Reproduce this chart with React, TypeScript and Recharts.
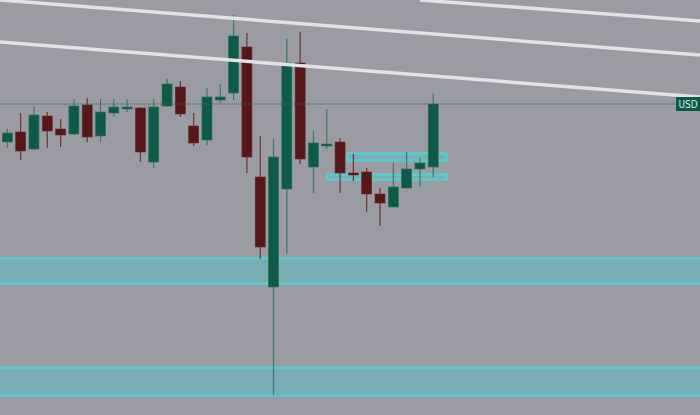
import React from "react";
import {
  ComposedChart,
  Bar,
  XAxis,
  YAxis,
  ReferenceLine,
  ReferenceArea,
} from "recharts";

// ---- data (prices) ----
const opens = [
  1.0758, 1.0768, 1.0751, 1.0784, 1.0771, 1.0766, 1.0795, 1.0764, 1.0787, 1.0791,
  1.0792, 1.0738, 1.0794, 1.0813, 1.0774, 1.076, 1.08, 1.0807, 1.0853, 1.0723,
  1.0613, 1.0711, 1.0837, 1.0733, 1.0755, 1.0758, 1.0727, 1.0728, 1.0706, 1.0693,
  1.0712, 1.0731, 1.0733,
];
const highs = [
  1.0771, 1.0787, 1.0794, 1.0788, 1.0781, 1.0801, 1.0802, 1.0801, 1.0801, 1.0801,
  1.0793, 1.0801, 1.0821, 1.0819, 1.0787, 1.0812, 1.0816, 1.0885, 1.0867, 1.0764,
  1.0761, 1.0861, 1.0868, 1.0769, 1.0791, 1.0762, 1.0746, 1.0732, 1.0712, 1.0737,
  1.0748, 1.0742, 1.0807,
];
const lows = [
  1.0752, 1.074, 1.075, 1.0752, 1.0753, 1.0765, 1.0758, 1.0758, 1.0783, 1.0788,
  1.0738, 1.0732, 1.0793, 1.0783, 1.0754, 1.0755, 1.0797, 1.08, 1.0727, 1.0641,
  1.0505, 1.0646, 1.0736, 1.0707, 1.0751, 1.0707, 1.0719, 1.0688, 1.0674, 1.0693,
  1.0712, 1.0713, 1.0723,
];
const closes = [
  1.0767, 1.0749, 1.0785, 1.0769, 1.0765, 1.0794, 1.0763, 1.0788, 1.0793, 1.0793,
  1.0748, 1.0793, 1.0816, 1.0786, 1.0757, 1.0803, 1.0803, 1.0864, 1.0743, 1.0653,
  1.0743, 1.0837, 1.0741, 1.0757, 1.0756, 1.0727, 1.0725, 1.0706, 1.0697, 1.0713,
  1.0731, 1.0737, 1.0796,
];

// support / resistance zones: price low/high and candle-index extent
const zoneLows = [1.06165, 1.05045, 1.07395, 1.07205];
const zoneHighs = [1.06415, 1.05325, 1.07465, 1.07255];
const zoneFrom = [-5, -5, 25.58, 24.08];
const zoneTo = [70, 70, 33.02, 33.02];

// trend lines in (candle index, price)
const trendX1 = [-0.53, -0.53, 31.03];
const trendY1 = [1.09, 1.0858, 1.09];
const trendX2 = [52.07, 52.07, 52.07];
const trendY2 = [1.0845, 1.0803, 1.0879];

const currencyLabel = "USD";

const X_DOMAIN: [number, number] = [-0.526, 52.07];
const Y_DOMAIN: [number, number] = [1.0485, 1.09];

const data = opens.map((o, i) => ({
  i,
  open: o,
  high: highs[i],
  low: lows[i],
  close: closes[i],
  range: [lows[i], highs[i]],
}));

const GREEN = "#0e5a49";
const RED = "#561719";
const GREEN_WICK = "#3f7a69";
const RED_WICK = "#6b3438";

const Candle = (props: any) => {
  const { x, y, width, height, payload } = props;
  if (!payload) return null;
  const { open, close, high, low } = payload;
  const up = close >= open;
  const span = high - low || 1e-9;
  const ratio = height / span;
  const top = y + (high - Math.max(open, close)) * ratio;
  const bot = y + (high - Math.min(open, close)) * ratio;
  const bodyH = Math.max(bot - top, 2);
  const cx = x + width / 2;
  return (
    <g>
      <line
        x1={cx}
        x2={cx}
        y1={y}
        y2={y + height}
        stroke={up ? GREEN_WICK : RED_WICK}
        strokeWidth={1.2}
      />
      <rect
        x={x}
        y={top}
        width={width}
        height={bodyH}
        fill={up ? GREEN : RED}
        stroke={up ? "#2a6e5c" : "#6a2a2c"}
        strokeWidth={0.6}
      />
    </g>
  );
};

const PriceLabel = (props: any) => {
  const vb = props.viewBox || {};
  const right = (vb.x || 0) + (vb.width || 0);
  const y = vb.y || 0;
  return (
    <g>
      <rect x={right - 24} y={y - 7} width={24} height={14} fill={GREEN} />
      <text
        x={right - 12}
        y={y + 3.5}
        textAnchor="middle"
        fontSize={10}
        fontFamily="'Liberation Sans Narrow', 'DejaVu Sans Condensed', Arial, sans-serif"
        fill="#d8e6e1"
      >
        {currencyLabel}
      </text>
    </g>
  );
};

export default function App() {
  const last = closes[closes.length - 1];
  return (
    <div
      style={{
        position: "absolute",
        left: 0,
        top: 0,
        width: 700,
        height: 415,
        background: "#9a9ba3",
        overflow: "hidden",
      }}
    >
      <ComposedChart
        width={700}
        height={415}
        data={data}
        margin={{ top: 0, right: 0, bottom: 0, left: 0 }}
      >
        <XAxis
          type="number"
          dataKey="i"
          domain={X_DOMAIN}
          allowDataOverflow
          hide
        />
        <YAxis type="number" domain={Y_DOMAIN} allowDataOverflow hide />

        {zoneLows.map((lo, k) => (
          <ReferenceArea
            key={"z" + k}
            x1={zoneFrom[k]}
            x2={zoneTo[k]}
            y1={lo}
            y2={zoneHighs[k]}
            fill="#77adb3"
            fillOpacity={1}
            stroke="#5ec6c9"
            strokeWidth={3}
            ifOverflow="hidden"
          />
        ))}

        {trendX1.map((x1, k) => (
          <ReferenceLine
            key={"t" + k}
            segment={[
              { x: x1, y: trendY1[k] },
              { x: trendX2[k], y: trendY2[k] },
            ]}
            stroke="#e2e2e7"
            strokeWidth={3.5}
            ifOverflow="hidden"
          />
        ))}

        <ReferenceLine
          y={last}
          stroke="#2f6355"
          strokeDasharray="1 1"
          strokeWidth={1}
          label={<PriceLabel />}
        />

        <Bar
          dataKey="range"
          barSize={10}
          shape={<Candle />}
          isAnimationActive={false}
        />
      </ComposedChart>
    </div>
  );
}
